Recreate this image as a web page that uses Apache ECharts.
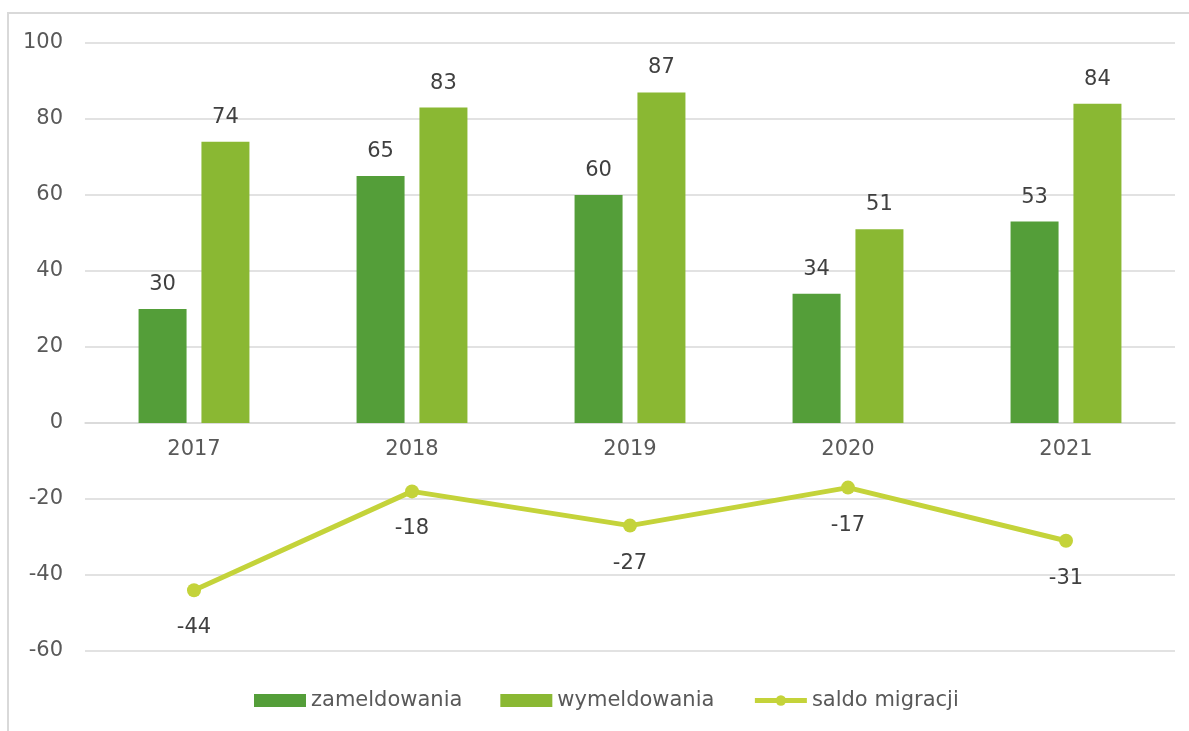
<!DOCTYPE html>
<html><head><meta charset="utf-8">
<script src="https://cdn.jsdelivr.net/npm/echarts@6/dist/echarts.min.js"></script>
<style>html,body{margin:0;padding:0;background:#fff;overflow:hidden}#c{width:1189px;height:731px}</style>
</head><body><div id="c"></div>
<script>
const categories = ['2017', '2018', '2019', '2020', '2021'];
const zameldowania = [30, 65, 60, 34, 53];
const wymeldowania = [74, 83, 87, 51, 84];
const saldo = [-44, -18, -27, -17, -31];
const seriesNames = ['zameldowania', 'wymeldowania', 'saldo migracji'];

const FONT = 'DejaVu Sans';
const FS = 21;
const TXT = '#595959';
const LBL = '#404040';
const LINE = '#c4d33a';
const Y_MIN = -60, Y_MAX = 100;
const GRID_TOP = 43, GRID_BOTTOM = 80, H = 731;
const plotH = H - GRID_TOP - GRID_BOTTOM;
// shift category axis from grid bottom up to the y=0 level
const zeroOffset = -plotH * (0 - Y_MIN) / (Y_MAX - Y_MIN);

const chart = echarts.init(document.getElementById('c'));
chart.setOption({
  animation: false,
  textStyle: { fontFamily: FONT },
  graphic: [{
    type: 'polyline', z: -10,
    shape: { points: [[1189, 13], [8, 13], [8, 731]] },
    style: { fill: 'none', stroke: '#d9d9d9', lineWidth: 2 }
  }],
  grid: { left: 85, right: 14, top: GRID_TOP, bottom: GRID_BOTTOM },
  legend: {
    left: 254, top: 690, padding: 0,
    itemWidth: 52, itemHeight: 13, itemGap: 38,
    textStyle: { fontFamily: FONT, fontSize: FS, color: TXT },
    data: [
      { name: seriesNames[0], icon: 'rect' },
      { name: seriesNames[1], icon: 'rect' },
      { name: seriesNames[2], lineStyle: { width: 5, color: LINE }, itemStyle: { color: LINE } }
    ]
  },
  xAxis: {
    type: 'category', data: categories,
    offset: zeroOffset,
    axisLine: { onZero: false, lineStyle: { color: '#d9d9d9', width: 1.5 } },
    axisTick: { show: false },
    axisLabel: { fontFamily: FONT, fontSize: FS, color: TXT, margin: 16 }
  },
  yAxis: {
    type: 'value', min: Y_MIN, max: Y_MAX, interval: 20,
    axisLine: { show: false }, axisTick: { show: false },
    splitLine: { lineStyle: { color: '#d9d9d9', width: 1.5 } },
    axisLabel: { fontFamily: FONT, fontSize: FS, color: TXT, margin: 22 }
  },
  series: [
    {
      name: seriesNames[0], type: 'bar', data: zameldowania,
      barWidth: 48, barGap: '31%',
      itemStyle: { color: '#549e39' },
      label: { show: true, position: 'top', distance: 14, fontFamily: FONT, fontSize: FS, color: LBL }
    },
    {
      name: seriesNames[1], type: 'bar', data: wymeldowania,
      barWidth: 48, barGap: '31%',
      itemStyle: { color: '#8ab833' },
      label: { show: true, position: 'top', distance: 14, fontFamily: FONT, fontSize: FS, color: LBL }
    },
    {
      name: seriesNames[2], type: 'line', data: saldo,
      symbol: 'circle', symbolSize: 14,
      lineStyle: { color: LINE, width: 5 },
      itemStyle: { color: LINE },
      label: { show: true, position: 'bottom', distance: 20, fontFamily: FONT, fontSize: FS, color: LBL }
    }
  ]
});
</script>
</body></html>
